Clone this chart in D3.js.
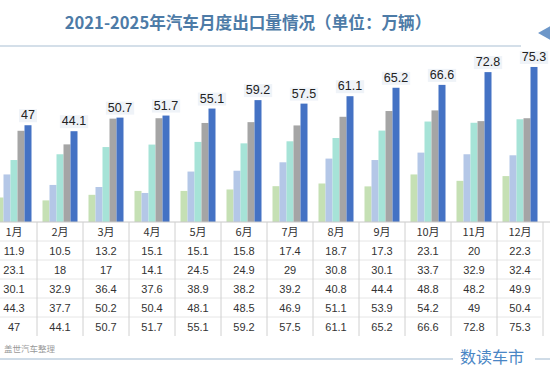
<!DOCTYPE html>
<html><head><meta charset="utf-8">
<script src="https://cdn.jsdelivr.net/npm/d3@7"></script>
<style>html,body{margin:0;padding:0;background:#fff;overflow:hidden}</style>
</head><body>
<svg id="c" width="550" height="378"></svg>
<script>
const months = ["1月","2月","3月","4月","5月","6月","7月","8月","9月","10月","11月","12月"];
const years = ["2021","2022","2023","2024","2025"];
const v2021 = [11.9,10.5,13.2,15.1,15.1,15.8,17.4,18.7,17.3,23.1,20,22.3];
const v2022 = [23.1,18,17,14.1,24.5,24.9,29,30.8,30.1,33.7,32.9,32.4];
const v2023 = [30.1,32.9,36.4,37.6,38.9,38.2,39.2,40.8,44.4,48.8,48.2,49.9];
const v2024 = [44.3,37.7,50.2,50.4,48.1,48.5,46.9,51.1,53.9,54.2,49,50.4];
const v2025 = [47,44.1,50.7,51.7,55.1,59.2,57.5,61.1,65.2,66.6,72.8,75.3];
const series = [v2021,v2022,v2023,v2024,v2025];
const colors = ["#c5e0b4","#b4c7e7","#a6e3d7","#a5a5a5","#4472c4"];

const svg = d3.select("#c");
const font = "'Liberation Sans', Arial, sans-serif";
const cjk = "'Noto Sans CJK SC', 'Noto Sans', sans-serif";

// title
svg.append("text").attr("x",248).attr("y",29).attr("text-anchor","middle")
  .attr("font-family",cjk).attr("font-weight","bold").attr("font-size",16.6)
  .attr("fill","#4d7ba7").text("2021-2025年汽车月度出口量情况（单位：万辆）");
svg.append("line").attr("x1",0).attr("x2",521).attr("y1",46).attr("y2",46)
  .attr("stroke","#a9bfd3").attr("stroke-width",1.2);
svg.append("path").attr("d","M538,33 L552,25 L552,41 Z").attr("fill","#6d97c9");

const x0 = d3.scaleBand().domain(months).range([-9, 543]).padding(0);
const x1 = d3.scaleBand().domain(years).range([5.5, 40.5]).padding(0);
const y = d3.scaleLinear().domain([0, 85]).range([222, 47]);

const g = svg.append("g");
months.forEach((m, i) => {
  const gm = g.append("g").attr("transform", `translate(${x0(m)},0)`);
  years.forEach((yr, j) => {
    const v = series[j][i];
    gm.append("rect").attr("x", x1(yr)).attr("width", x1.bandwidth())
      .attr("y", y(v)).attr("height", y(0) - y(v)).attr("fill", colors[j]);
  });
  const v = v2025[i];
  const cx = x1("2025") + x1.bandwidth()/2;
  const t = gm.append("text").attr("x", cx).attr("y", y(v) - 6)
    .attr("text-anchor","middle").attr("font-family",font).attr("font-size",12.5)
    .attr("fill","#222").text(v);
  const bb = t.node().getBBox();
  gm.insert("rect","text:last-of-type").attr("x", bb.x - 2).attr("y", bb.y + 1)
    .attr("width", bb.width + 4).attr("height", bb.height - 1).attr("fill","#eff3f8");
});

// table
const rowH = 19, tTop = 222;
const nRows = 6;
const tBottom = tTop + rowH * nRows;
svg.append("line").attr("x1",0).attr("x2",550).attr("y1",tTop).attr("y2",tTop)
  .attr("stroke","#c8c8c8");
for (let r = 1; r < nRows; r++) {
  svg.append("line").attr("x1",0).attr("x2",541).attr("y1",tTop + r*rowH).attr("y2",tTop + r*rowH)
    .attr("stroke","#e6e6e6");
}
months.forEach((m, i) => {
  const xr = x0(m) + x0.bandwidth();
  svg.append("line").attr("x1", xr).attr("x2", xr).attr("y1", tTop).attr("y2", tBottom)
    .attr("stroke","#d0d0d0");
  const cx = x0(m) + x0.bandwidth()/2;
  svg.append("text").attr("x", cx).attr("y", tTop + rowH/2 + 4).attr("text-anchor","middle")
    .attr("font-family",cjk).attr("font-size",11).attr("fill","#333").text(m);
  series.forEach((s, j) => {
    svg.append("text").attr("x", cx).attr("y", tTop + rowH*(j+1) + rowH/2 + 4)
      .attr("text-anchor","middle").attr("font-family",font).attr("font-size",11)
      .attr("fill","#333").text(s[i]);
  });
});

// footer
svg.append("text").attr("x",4).attr("y",352).attr("font-family",cjk).attr("font-size",8.5)
  .attr("fill","#999").text("盖世汽车整理");
svg.append("line").attr("x1",0).attr("x2",453).attr("y1",359).attr("y2",359).attr("stroke","#9fb8cf");
svg.append("line").attr("x1",535).attr("x2",550).attr("y1",359).attr("y2",359).attr("stroke","#9fb8cf");
svg.append("text").attr("x",492).attr("y",363).attr("text-anchor","middle")
  .attr("font-family",cjk).attr("font-size",16).attr("fill","#4a86c5").text("数读车市");
</script>
</body></html>
